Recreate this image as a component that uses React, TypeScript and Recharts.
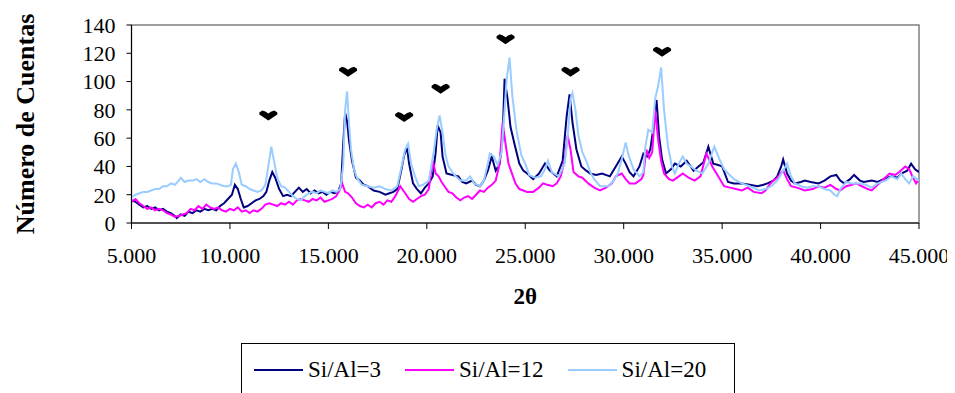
import { ComposedChart, Line, XAxis, YAxis, ReferenceDot, ReferenceArea, Legend } from 'recharts';

// [2θ, counts]
const SIAL3: [number, number][] = [
  [5.0, 16], [5.2, 15], [5.4, 13], [5.6, 11], [5.8, 12], [6.0, 10], [6.2, 11], [6.4, 9], [6.6, 10], [6.8, 8],
  [7.0, 7], [7.2, 5], [7.3, 3.5], [7.5, 6], [7.7, 5], [7.9, 8], [8.1, 7], [8.3, 9], [8.5, 8], [8.7, 10],
  [8.9, 9], [9.1, 10], [9.3, 9], [9.5, 12], [9.7, 14], [9.9, 17], [10.1, 20], [10.25, 27], [10.4, 24], [10.55, 17],
  [10.7, 11], [10.9, 12], [11.1, 14], [11.3, 16], [11.5, 17], [11.7, 19], [11.85, 22], [12.0, 30], [12.15, 36], [12.3, 32],
  [12.5, 24], [12.7, 19], [12.9, 20], [13.1, 19], [13.3, 22], [13.5, 25], [13.7, 22], [13.9, 24], [14.1, 21], [14.3, 23],
  [14.5, 21], [14.7, 22], [14.9, 20], [15.1, 22], [15.3, 21], [15.5, 22], [15.65, 28], [15.75, 55], [15.85, 78], [15.95, 72],
  [16.05, 58], [16.2, 44], [16.4, 32], [16.6, 30], [16.8, 27], [17.0, 26], [17.3, 23], [17.6, 22], [17.9, 20], [18.1, 21],
  [18.3, 22], [18.5, 24], [18.7, 37], [18.85, 48], [19.0, 53], [19.1, 42], [19.3, 28], [19.5, 24], [19.7, 21], [19.9, 25],
  [20.1, 28], [20.3, 33], [20.45, 50], [20.55, 69], [20.7, 64], [20.8, 47], [21.0, 35], [21.3, 34], [21.6, 33], [21.8, 29],
  [22.0, 28], [22.3, 30], [22.5, 27], [22.7, 26], [22.9, 30], [23.1, 37], [23.3, 47], [23.5, 37], [23.7, 42], [23.85, 60],
  [23.95, 102], [24.1, 88], [24.25, 68], [24.45, 56], [24.7, 42], [24.9, 37], [25.1, 35], [25.4, 31], [25.7, 35], [26.0, 42],
  [26.25, 37], [26.6, 33], [26.9, 44], [27.1, 75], [27.25, 91], [27.4, 71], [27.6, 52], [27.85, 40], [28.1, 37], [28.3, 35],
  [28.6, 34], [28.9, 35], [29.3, 33], [29.6, 40], [29.9, 47], [30.1, 42], [30.3, 36], [30.5, 33], [30.8, 40], [31.0, 49],
  [31.2, 47], [31.35, 52], [31.5, 66], [31.67, 87], [31.8, 61], [31.95, 45], [32.15, 35], [32.4, 38], [32.6, 42], [32.9, 40],
  [33.2, 44], [33.55, 37], [33.8, 40], [34.05, 43], [34.3, 54], [34.55, 42], [34.8, 41], [35.0, 40], [35.3, 29], [35.6, 28],
  [36.0, 28], [36.4, 27], [36.8, 26], [37.1, 27], [37.3, 28], [37.6, 30], [37.8, 33], [38.0, 40], [38.1, 45], [38.3, 35],
  [38.5, 30], [38.7, 28], [39.0, 29], [39.2, 30], [39.5, 29], [39.9, 28], [40.2, 30], [40.5, 33], [40.8, 34], [41.0, 30],
  [41.2, 28], [41.5, 31], [41.7, 34], [42.0, 30], [42.2, 29], [42.6, 30], [42.9, 29], [43.2, 31], [43.6, 33], [43.9, 32],
  [44.1, 35], [44.4, 37], [44.6, 42], [44.8, 38], [45.0, 36],
];

const SIAL12: [number, number][] = [
  [5.0, 15], [5.2, 17], [5.4, 14], [5.6, 12], [5.8, 10], [6.0, 11], [6.2, 9], [6.4, 10], [6.6, 9], [6.8, 7],
  [7.0, 6], [7.2, 4.5], [7.4, 5], [7.6, 6], [7.8, 7], [8.0, 10], [8.2, 9], [8.4, 12], [8.6, 10], [8.8, 13],
  [9.0, 11], [9.2, 10], [9.4, 11], [9.6, 9], [9.8, 8], [10.0, 10], [10.2, 9], [10.4, 11], [10.6, 8], [10.8, 9],
  [11.0, 7], [11.2, 9], [11.4, 8], [11.6, 10], [11.8, 13], [12.0, 14], [12.2, 13], [12.4, 12], [12.6, 14], [12.8, 13],
  [13.0, 15], [13.2, 13], [13.4, 16], [13.6, 17], [13.8, 16], [14.0, 15], [14.2, 17], [14.4, 16], [14.6, 18], [14.8, 15],
  [15.0, 16], [15.2, 17], [15.4, 19], [15.6, 24], [15.7, 28], [15.85, 22], [16.0, 21], [16.2, 18], [16.4, 14], [16.6, 12],
  [16.8, 11], [17.0, 13], [17.2, 11], [17.4, 14], [17.6, 15], [17.8, 13], [18.0, 16], [18.2, 15], [18.4, 19], [18.65, 26],
  [18.9, 21], [19.1, 17], [19.3, 15], [19.5, 17], [19.7, 19], [19.9, 20], [20.1, 24], [20.3, 44], [20.45, 35], [20.6, 33],
  [20.75, 29], [20.9, 26], [21.1, 22], [21.3, 21], [21.5, 18], [21.7, 16], [21.9, 18], [22.1, 19], [22.3, 17], [22.5, 20],
  [22.7, 23], [22.9, 22], [23.1, 25], [23.3, 27], [23.5, 30], [23.7, 42], [23.85, 71], [24.0, 56], [24.15, 42], [24.3, 36],
  [24.5, 28], [24.7, 24], [24.9, 23], [25.1, 22], [25.4, 22], [25.7, 25], [25.9, 28], [26.1, 27], [26.4, 26], [26.6, 28],
  [26.8, 33], [27.0, 44], [27.15, 62], [27.3, 52], [27.45, 36], [27.7, 33], [27.9, 32], [28.2, 28], [28.5, 25], [28.8, 23],
  [29.1, 25], [29.4, 28], [29.6, 33], [29.9, 35], [30.1, 31], [30.3, 28], [30.6, 28], [30.9, 31], [31.0, 34], [31.15, 52],
  [31.3, 46], [31.45, 50], [31.6, 80], [31.75, 59], [31.9, 44], [32.05, 35], [32.3, 31], [32.5, 30], [32.8, 33], [33.0, 35],
  [33.3, 32], [33.6, 30], [33.9, 33], [34.2, 49], [34.5, 40], [34.8, 33], [35.1, 26], [35.4, 25], [35.7, 24], [36.0, 23],
  [36.3, 25], [36.6, 22], [37.0, 21], [37.2, 23], [37.4, 27], [37.6, 30], [37.8, 32], [38.1, 37], [38.3, 31], [38.5, 26],
  [38.8, 25], [39.2, 23], [39.6, 24], [39.9, 26], [40.2, 25], [40.5, 27], [40.8, 24], [41.0, 23], [41.3, 26], [41.6, 27],
  [41.8, 28], [42.1, 26], [42.4, 24], [42.6, 23], [42.9, 27], [43.2, 31], [43.5, 35], [43.8, 34], [44.0, 36], [44.3, 40],
  [44.5, 38], [44.7, 32], [44.85, 28], [45.0, 31],
];

const SIAL20: [number, number][] = [
  [5.0, 18], [5.2, 20], [5.4, 21], [5.6, 22], [5.8, 22], [6.0, 23], [6.2, 24], [6.4, 24], [6.6, 26], [6.8, 26],
  [7.0, 28], [7.2, 27], [7.4, 30], [7.5, 32], [7.7, 29], [7.9, 30], [8.1, 30], [8.3, 31], [8.5, 29], [8.7, 31],
  [8.9, 29], [9.1, 28], [9.3, 28], [9.5, 27], [9.7, 26], [9.9, 26], [10.05, 27], [10.15, 38], [10.3, 42], [10.45, 36],
  [10.6, 27], [10.8, 26], [11.0, 24], [11.2, 23], [11.4, 22], [11.6, 23], [11.8, 27], [11.95, 40], [12.1, 54], [12.25, 43],
  [12.4, 32], [12.6, 26], [12.8, 25], [13.0, 22], [13.2, 19], [13.4, 17], [13.6, 16], [13.8, 19], [14.0, 21], [14.2, 22],
  [14.4, 21], [14.6, 23], [14.8, 22], [15.0, 21], [15.2, 23], [15.4, 22], [15.6, 24], [15.75, 40], [15.85, 80], [15.95, 93],
  [16.05, 70], [16.15, 52], [16.3, 38], [16.45, 32], [16.7, 27], [17.0, 26], [17.3, 25], [17.6, 26], [17.9, 24], [18.2, 23],
  [18.5, 26], [18.75, 42], [18.9, 52], [19.05, 56], [19.2, 42], [19.4, 33], [19.6, 26], [19.8, 27], [20.1, 30], [20.35, 50],
  [20.5, 66], [20.65, 76], [20.8, 64], [20.95, 48], [21.1, 40], [21.4, 34], [21.7, 30], [22.0, 30], [22.2, 33], [22.4, 28],
  [22.7, 26], [22.9, 30], [23.1, 42], [23.2, 49], [23.4, 47], [23.6, 41], [23.8, 50], [23.95, 80], [24.05, 101], [24.2, 117],
  [24.35, 89], [24.55, 66], [24.8, 48], [25.0, 42], [25.2, 34], [25.5, 32], [25.8, 33], [26.0, 38], [26.15, 44], [26.35, 36],
  [26.7, 33], [27.0, 42], [27.15, 60], [27.3, 88], [27.4, 92], [27.55, 80], [27.7, 62], [27.9, 50], [28.1, 44], [28.3, 36],
  [28.5, 31], [28.8, 26], [29.2, 26], [29.5, 30], [29.7, 35], [29.9, 45], [30.1, 57], [30.25, 48], [30.5, 38], [30.8, 33],
  [31.0, 36], [31.1, 54], [31.25, 66], [31.45, 64], [31.6, 88], [31.75, 97], [31.9, 110], [32.05, 80], [32.25, 54], [32.45, 40],
  [32.6, 35], [32.8, 42], [33.0, 47], [33.2, 42], [33.4, 40], [33.7, 37], [34.0, 35], [34.3, 42], [34.6, 54], [34.9, 44],
  [35.1, 38], [35.3, 35], [35.6, 31], [36.0, 28], [36.4, 26], [36.9, 23], [37.2, 24], [37.5, 26], [37.8, 30], [38.1, 37],
  [38.3, 42], [38.5, 33], [38.7, 28], [39.0, 26], [39.3, 25], [39.6, 26], [39.9, 26], [40.2, 24], [40.5, 23], [40.7, 20],
  [40.85, 19], [41.0, 24], [41.3, 29], [41.6, 28], [42.0, 28], [42.3, 27], [42.6, 25], [42.9, 28], [43.3, 30], [43.6, 33],
  [43.9, 31], [44.1, 35], [44.3, 31], [44.5, 28], [44.7, 33], [45.0, 30],
];

// marked reflections (2θ, height of the marker)
const PEAKS: [number, number][] = [
  [11.95, 76], [16.0, 107], [18.85, 75], [20.7, 95], [24.0, 130], [27.3, 107], [31.95, 121],
];

const X_TICKS = [5, 10, 15, 20, 25, 30, 35, 40, 45];
const X_TICK_LABELS = ['5.000', '10.000', '15.000', '20.000', '25.000', '30.000', '35.000', '40.000', '45.000'];
const Y_TICKS = [0, 20, 40, 60, 80, 100, 120, 140];

const SERIES = [
  { name: 'Si/Al=3', color: '#000080', points: SIAL3 },
  { name: 'Si/Al=12', color: '#FF00FF', points: SIAL12 },
  { name: 'Si/Al=20', color: '#99CCFF', points: SIAL20 },
];

const FONT = '"Liberation Serif", "Times New Roman", serif';

const toRows = (pts: [number, number][]) => pts.map(([x, y]) => ({ x, y }));

// wide, flat-topped heart like the Wingdings marker in the original
const Heart = ({ cx, cy }: any) => (
  <path
    d={`M${cx},${cy + 5} L${cx - 9},${cy - 1} L${cx - 9},${cy - 3} L${cx - 6},${cy - 5} L${cx - 3},${cy - 4} L${cx},${cy - 2} L${cx + 3},${cy - 4} L${cx + 6},${cy - 5} L${cx + 9},${cy - 3} L${cx + 9},${cy - 1} Z`}
    fill="#000"
  />
);

const YTitle = ({ viewBox }: any) => {
  const cx = 17;
  const cy = viewBox.y + viewBox.height / 2;
  return (
    <text x={cx} y={cy} transform={`rotate(-90, ${cx}, ${cy})`} textAnchor="middle" dominantBaseline="central"
      fontFamily={FONT} fontWeight="bold" fontSize={26} fill="#000">
      Número de Cuentas
    </text>
  );
};

// the box runs off the bottom of the page in the original, so no bottom edge
const LegendBox = () => (
  <div style={{
    boxSizing: 'border-box', height: 50, border: '1px solid #000', borderBottom: 'none', display: 'flex',
    alignItems: 'center', padding: '2px 12px 0', fontFamily: FONT, fontSize: 23, color: '#000', background: '#fff',
  }}>
    {SERIES.map((s, i) => (
      <div key={s.name} style={{ display: 'flex', alignItems: 'center', marginLeft: i ? 24 : 0 }}>
        <span style={{ display: 'inline-block', width: 49, height: 2, background: s.color, marginRight: 5 }} />
        <span>{s.name}</span>
      </div>
    ))}
  </div>
);

export default function App() {
  return (
    <ComposedChart width={947} height={385} margin={{ top: 17, right: 36, bottom: 0, left: 0 }}>
      <ReferenceArea x1={5} x2={45} y1={0} y2={140} fill="none" stroke="#808080" strokeWidth={1.5} />
      <XAxis
        type="number" dataKey="x" domain={[5, 45]} ticks={X_TICKS} allowDataOverflow interval={0}
        tickFormatter={(v: number) => X_TICK_LABELS[X_TICKS.indexOf(v)]}
        height={120} tickSize={6} tickMargin={18}
        stroke="#000" tick={{ fill: '#000', fontFamily: FONT, fontSize: 22 }}
        label={{ value: '2θ', position: 'insideBottom', offset: 39, fill: '#000', fontFamily: FONT, fontWeight: 'bold', fontSize: 23 }}
      />
      <YAxis
        type="number" domain={[0, 140]} ticks={Y_TICKS} width={123.5} interval={0}
        tickSize={5} tickMargin={11}
        stroke="#000" tick={{ fill: '#000', fontFamily: FONT, fontSize: 22 }}
        label={{ content: YTitle }}
      />
      {SERIES.map(s => (
        <Line key={s.name} data={toRows(s.points)} dataKey="y" name={s.name} type="linear"
          stroke={s.color} strokeWidth={2} dot={false} isAnimationActive={false} />
      ))}
      {PEAKS.map(([x, y], i) => (
        <ReferenceDot key={i} x={x} y={y} r={6} shape={Heart} />
      ))}
      <Legend verticalAlign="bottom" content={LegendBox}
        wrapperStyle={{ left: 233, width: 494, height: 50, bottom: 0 }} />
    </ComposedChart>
  );
}
